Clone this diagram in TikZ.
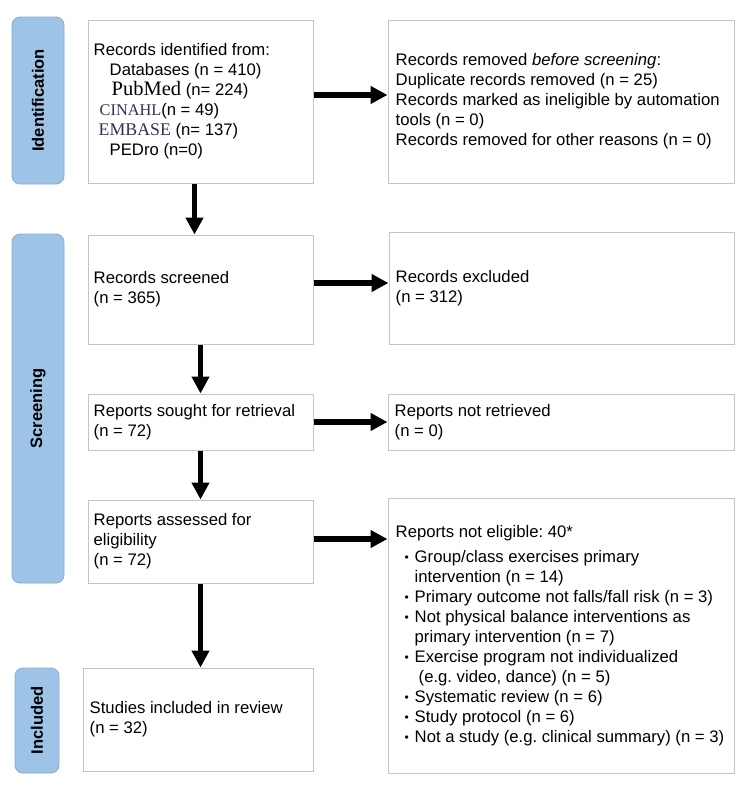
\documentclass[tikz,border=0pt]{standalone}
\usepackage{fontspec}
\setmainfont{Liberation Sans}
\newfontfamily\serifx{Liberation Serif}
\usetikzlibrary{arrows.meta}
\definecolor{pillfill}{HTML}{9DC3E6}
\definecolor{pilledge}{HTML}{8FAACB}
\definecolor{boxedge}{HTML}{C4C4C4}
\definecolor{serifcol}{HTML}{2B3550}
\newcommand\bulx{\makebox[19pt][l]{\hspace{9pt}\raisebox{1.2pt}{\fontsize{12}{12}\selectfont\textbullet}}}
\frenchspacing
\begin{document}
\begin{tikzpicture}[x=1pt,y=-1pt,
  box/.style={draw=boxedge, line width=1pt, fill=white, inner sep=0pt},
  txt/.style={anchor=west, align=left, inner sep=0pt, font=\fontsize{16.7}{20}\selectfont\frenchspacing},
  pill/.style={draw=pilledge, fill=pillfill, rounded corners=8pt, line width=0.8pt, inner sep=0pt},
  pilltxt/.style={rotate=90, inner sep=0pt, font=\fontsize{16.5}{20}\selectfont\bfseries},
  arr/.style={line width=5.5pt, -{Triangle[width=17pt,length=17pt]}}
]
\useasboundingbox (0,0) rectangle (750,796);
\fill[white] (0,0) rectangle (750,796);

% phase pills
\node[pill, minimum width=52pt, minimum height=167pt] (pid) at (38,100.5) {};
\node[pilltxt] (pidt) at (pid.center) {Identification};
\node[pill, minimum width=52pt, minimum height=349pt] (pscr) at (38,408.5) {};
\node[pilltxt] (pscrt) at (pscr.center) {Screening};
\node[pill, minimum width=44pt, minimum height=105pt] (pinc) at (37,720.5) {};
\node[pilltxt] (pinct) at (pinc.center) {Included};

% boxes
\node[box, minimum width=225pt, minimum height=163pt] (id1) at (200.5,101.5) {};
\node[box, minimum width=346pt, minimum height=163pt] (rem) at (561,101.5) {};
\node[box, minimum width=225pt, minimum height=109pt] (scr) at (200.5,289.5) {};
\node[box, minimum width=345pt, minimum height=112pt] (exc) at (561.5,288) {};
\node[box, minimum width=225pt, minimum height=56pt] (sou) at (200.5,422) {};
\node[box, minimum width=346pt, minimum height=56pt] (nrt) at (561,422) {};
\node[box, minimum width=225pt, minimum height=83pt] (ass) at (200.5,541.5) {};
\node[box, minimum width=346pt, minimum height=275pt] (nel) at (561,635.5) {};
\node[box, minimum width=230pt, minimum height=103pt] (inc) at (198,719.5) {};

% texts
\node[txt] (id1t) at ([xshift=6pt]id1.west) {Records identified from:\\
\hspace*{16pt}Databases (n = 410)\\
\hspace*{18pt}{\serifx\fontsize{20.5}{20}\selectfont PubMed} (n= 224)\\
\hspace*{6pt}{\serifx\color{serifcol}\fontsize{16.3}{20}\selectfont CINAHL}(n = 49)\\
\hspace*{5pt}{\serifx\color{serifcol}\fontsize{17.8}{20}\selectfont EMBASE} (n= 137)\\
\hspace*{16pt}PEDro (n=0)};
\node[txt] (remt) at ([xshift=8pt]rem.west) {Records removed \textit{before screening}:\\
Duplicate records removed (n = 25)\\
Records marked as ineligible by automation\\
tools (n = 0)\\
Records removed for other reasons (n = 0)};
\node[txt] (scrt) at ([xshift=6pt]scr.west) {Records screened\\(n = 365)};
\node[txt] (exct) at ([xshift=7pt]exc.west) {Records excluded\\(n = 312)};
\node[txt] (sout) at ([xshift=6pt]sou.west) {Reports sought for retrieval\\(n = 72)};
\node[txt] (nrtt) at ([xshift=7pt]nrt.west) {Reports not retrieved\\(n = 0)};
\node[txt] (asst) at ([xshift=6pt]ass.west) {Reports assessed for\\eligibility\\(n = 72)};
\node[txt] (nelt) at ([xshift=8pt]nel.west) {Reports not eligible: 40*\\[5pt]
\bulx Group/class exercises primary\\
\hspace*{19pt}intervention (n = 14)\\
\bulx Primary outcome not falls/fall risk (n = 3)\\
\bulx Not physical balance interventions as\\
\hspace*{19pt}primary intervention (n = 7)\\
\bulx Exercise program not individualized\\
\hspace*{23pt}(e.g. video, dance) (n = 5)\\
\bulx Systematic review (n = 6)\\
\bulx Study protocol (n = 6)\\
\bulx Not a study (e.g. clinical summary) (n = 3)};
\node[txt] (inct) at ([xshift=7pt]inc.west) {Studies included in review\\(n = 32)};

% arrows
\draw[arr] ([xshift=-6pt]id1.south) -- ([xshift=-6pt]id1.south |- scr.north);
\draw[arr] ([yshift=6.5pt]id1.east) -- ([yshift=6.5pt]rem.west);
\draw[arr] ([yshift=6.5pt]scr.east) -- ([yshift=6.5pt]scr.east -| exc.west);
\draw[arr] (scr.south) -- (sou.north);
\draw[arr] (sou.east) -- (nrt.west);
\draw[arr] (sou.south) -- (ass.north);
\draw[arr] ([yshift=2.5pt]ass.east) -- ([yshift=2.5pt]ass.east -| nel.west);
\draw[arr] (ass.south) -- (ass.south |- inc.north);
\end{tikzpicture}
\end{document}
